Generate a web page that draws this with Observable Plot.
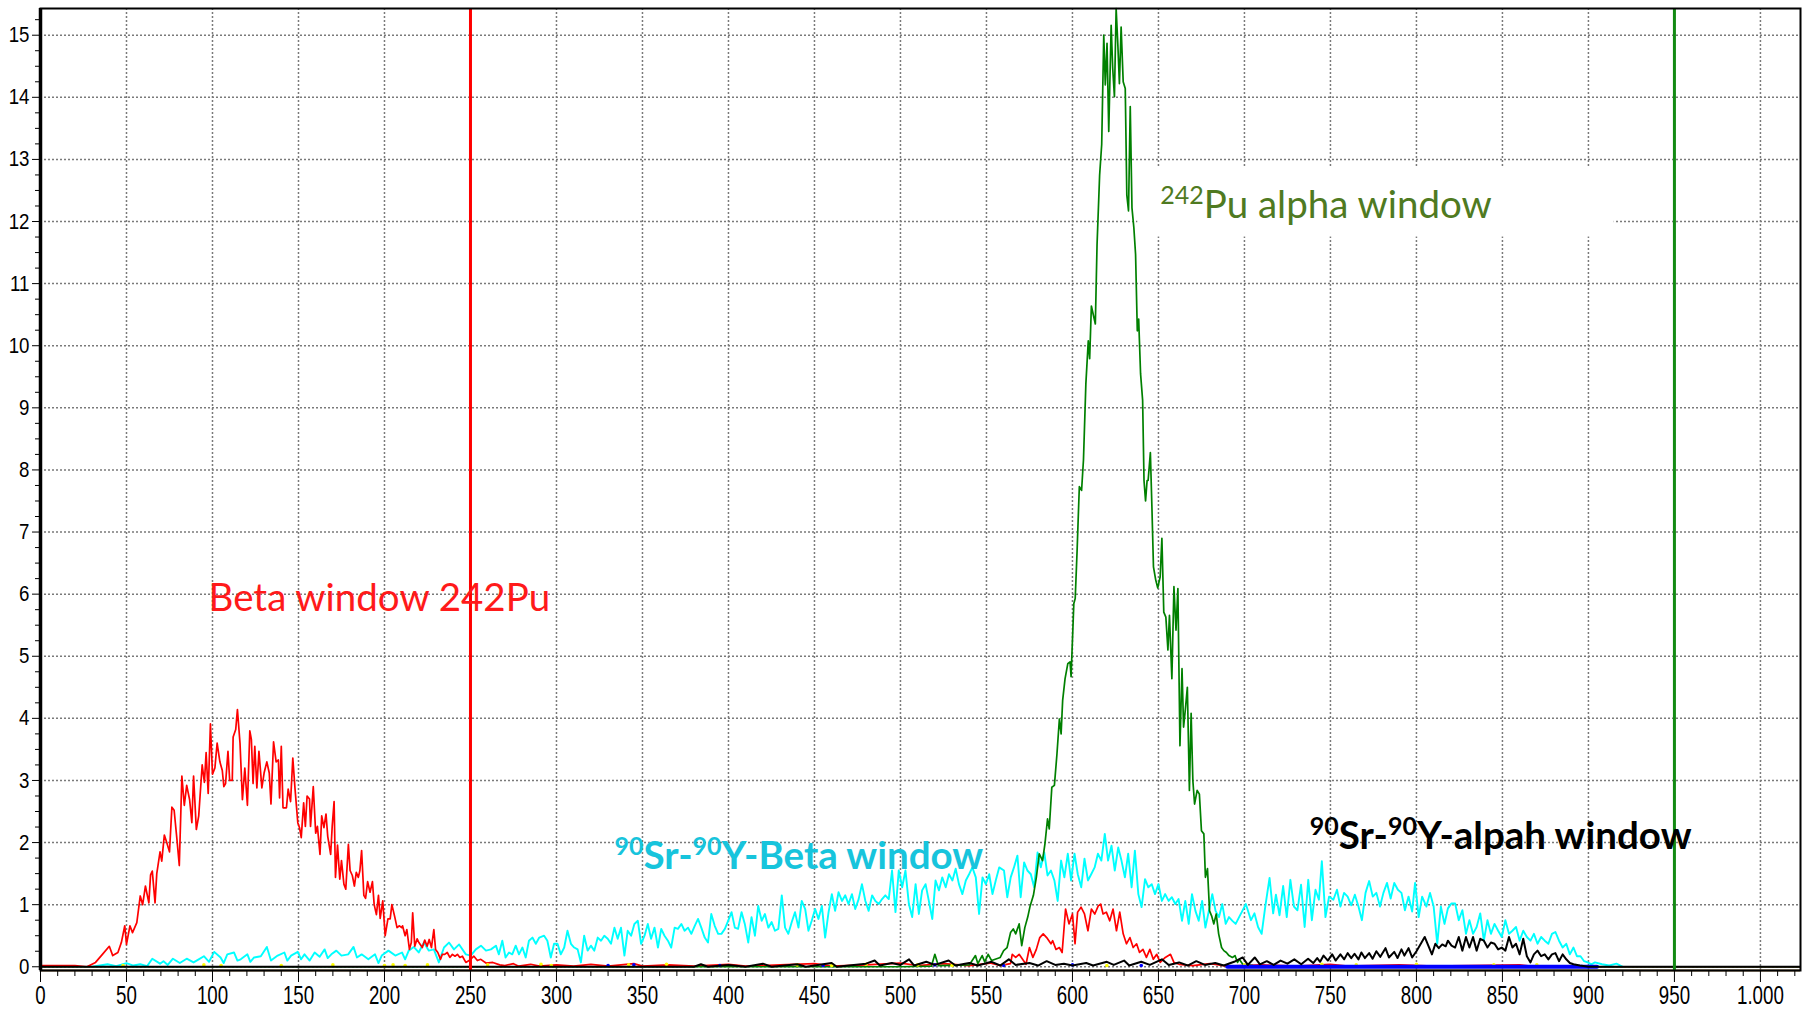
<!DOCTYPE html>
<html><head><meta charset="utf-8">
<script src="https://cdn.jsdelivr.net/npm/d3@7"></script>
<script src="https://cdn.jsdelivr.net/npm/@observablehq/plot@0.6"></script>
<style>
html,body{margin:0;padding:0;background:#fff;}
#chart svg{display:block;}
</style></head><body><div id="chart"></div>
<script>
// ---------- axis ticks ----------
const xTicks = [0,50,100,150,200,250,300,350,400,450,500,550,600,650,700,750,800,850,900,950,1000];
const xTickLabels = ["0","50","100","150","200","250","300","350","400","450","500","550","600","650","700","750","800","850","900","950","1.000"];
const yTicks = [0,1,2,3,4,5,6,7,8,9,10,11,12,13,14,15];

// ---------- window limits (channel) ----------
const betaWindowLimit = [250];
const alphaWindowLimit = [950];

// ---------- spectra: [channel, counts] ----------
const redSpectrum = [
[0,0.02],[20,0.02],[27,0],[32,0.07],[36,0.2],[40,0.33],[42,0.18],[45,0.23],[47,0.39],[49,0.66],[50,0.36],[52,0.66],[53.5,0.55],[56,0.71],[58,1.14],[59.4,1.0],[61,1.3],[63,1.03],[64,1.48],[65,1.54],[66.6,1.03],[67.6,1.5],[69.5,1.85],[70.5,1.7],[72,2.12],[73.4,2.0],[75,1.85],[76.4,2.57],[77.7,2.52],[79.3,2.06],[80.7,1.63],[82.2,3.07],[83.6,2.6],[85,2.92],[86.7,2.69],[88,2.32],[89,3.07],[90.6,2.21],[92,2.43],[94,3.25],[95.3,2.97],[96.3,3.45],[97.5,2.79],[98.8,3.91],[100,3.1],[101.4,3.2],[102.7,3.6],[104.3,3.3],[105.7,3.16],[106.6,2.9],[107.6,2.95],[109,3.47],[110,3.0],[111.5,3.0],[112,3.7],[113.5,3.82],[114.5,4.14],[116,3.6],[117.4,2.69],[118.8,3.2],[120.3,2.6],[121.7,3.8],[122.6,3.66],[123.6,2.95],[124.6,3.55],[125.8,2.88],[127,3.47],[128.7,2.88],[130,3.12],[131.6,3.3],[133,3.12],[134,2.62],[135.5,3.62],[137,3.3],[138.3,3.33],[139,2.72],[140,3.55],[141,2.56],[143,2.56],[144,2.86],[145.4,2.66],[146.7,3.36],[148,2.86],[149.6,2.32],[150.6,2.24],[151.6,2.08],[153,2.64],[154,2.26],[155,2.75],[156.4,2.7],[157,2.26],[158.6,2.9],[160,2.15],[161,2.26],[162.5,1.81],[163.5,2.43],[164.8,2.24],[166,2.46],[167,2.1],[168.7,1.81],[169.6,2.26],[170.7,2.66],[171.5,1.44],[172.7,1.96],[174,1.41],[175,1.71],[176.4,1.33],[177.5,1.25],[179,1.97],[180,1.55],[181.3,1.47],[182.5,1.3],[183.6,1.52],[184.8,1.44],[185.7,1.55],[186.7,1.87],[188,1.15],[189,1.1],[190.2,1.37],[191.6,1.2],[193,1.37],[194,1.0],[195.3,0.84],[196.5,1.15],[197.5,0.78],[199,1.06],[200.4,0.5],[202,0.77],[203.3,0.77],[204.3,1.0],[206,0.8],[207.3,0.63],[208.7,0.66],[210,0.63],[210.5,0.66],[212,0.5],[213,0.6],[214.5,0.28],[215.6,0.39],[216.4,0.87],[217.6,0.33],[219,0.45],[220,0.39],[222,0.31],[223.4,0.43],[224.8,0.33],[226,0.44],[227.3,0.31],[228.7,0.6],[229.7,0.28],[231,0.23],[232.6,0.12],[233.6,0.2],[235,0.2],[236.5,0.23],[238,0.15],[239.5,0.2],[241,0.17],[242.4,0.2],[243.8,0.15],[245.3,0.17],[247.3,0.07],[249.2,0.1],[252,0.17],[254,0.1],[256,0.12],[259,0.06],[263,0.07],[267,0.03],
[270,0.02],[275,0.05],[278,0.01],[285,0.04],[290,0.01],[300,0.03],[310,0.01],[320,0.04],[330,0.01],[345,0.05],[350,0.01],[365,0.03],[380,0.01],[400,0.04],[410,0.01],[430,0.03],[450,0.05],[460,0.01],[480,0.03],[500,0.06],[510,0.02],[525,0.05],[540,0.02],[552,0.06],[558,0.02],
[560,0.03],[564,0.05],[565,0.2],[567,0.15],[569,0.2],[571,0.12],[573,0.04],[575,0.31],[577,0.15],[579,0.28],[581,0.47],[583,0.53],[585,0.47],[587.5,0.37],[588.5,0.42],[590.4,0.28],[592.4,0.31],[594,0.23],[596,0.93],[598,0.69],[600,0.85],[601.5,0.37],[603,0.88],[605,0.96],[607,0.85],[609,0.58],[611,0.93],[613,0.85],[615,0.98],[616.4,1.01],[617.8,0.85],[619.7,0.88],[621.7,0.74],[623.6,0.93],[625.6,0.58],[627.5,0.88],[629.5,0.53],[631.4,0.37],[633.4,0.47],[635.3,0.31],[637.3,0.37],[639,0.23],[641,0.28],[643,0.15],[645,0.28],[647,0.12],[649,0.2],[651,0.07],[654,0.15],[657,0.2],[659,0.07],[662,0.04],
[670,0.02],[680,0.05],[690,0.01],[710,0.03],[730,0.01],[750,0.04],[760,0.01],[790,0.03],[810,0.01],[860,0.03],[870,0],[1023,0]
];

const cyanSpectrum = [
[30,0],[39,0.04],[44,0.01],[50,0.06],[54,0.02],[58,0.04],[62,0.01],[65,0.13],[69.5,0.05],[71.5,0.09],[74,0.03],[77,0.13],[81,0.06],[85,0.13],[89,0.07],[92,0.12],[95,0.17],[98,0.08],[101,0.24],[104.7,0.15],[106.5,0.06],[108.6,0.2],[112.5,0.23],[114.5,0.1],[116.4,0.12],[120.3,0.2],[122,0.08],[124.2,0.15],[128.1,0.17],[131.6,0.32],[134,0.1],[137.9,0.18],[141.8,0.23],[143.5,0.1],[145.7,0.18],[149.6,0.24],[151.5,0.12],[153.5,0.2],[156.5,0.1],[159.4,0.23],[162.3,0.16],[165.2,0.28],[167,0.14],[169.1,0.2],[172,0.26],[175,0.18],[178.9,0.2],[182,0.32],[184,0.15],[186.7,0.2],[190.6,0.12],[194.5,0.2],[196.5,0.06],[198.4,0.18],[202.3,0.26],[206.3,0.18],[210.2,0.23],[212,0.12],[214.1,0.26],[217,0.32],[219.9,0.23],[222.9,0.39],[225.8,0.26],[228.7,0.28],[231.6,0.07],[234.6,0.31],[237.5,0.39],[240.4,0.28],[243.4,0.36],[247.3,0.2],[250.2,0.18],[253.1,0.28],[256.1,0.34],[259,0.26],[261.9,0.28],[264.8,0.34],
[266.5,0.20],[268.5,0.42],[270.4,0.15],[272.4,0.23],[274.3,0.20],[276.3,0.34],[278.2,0.20],[280.2,0.31],[282.1,0.15],[284,0.42],[286,0.47],[288,0.37],[290,0.47],[292.8,0.50],[294.7,0.42],[296.7,0.15],[298.6,0.37],[300.6,0.37],[302.5,0.20],[304.5,0.31],[306.4,0.58],[308.4,0.37],[310.3,0.31],[312.3,0.28],[314.2,0.07],[316.1,0.50],[318.1,0.26],[320,0.34],[322,0.26],[324,0.47],[325.9,0.42],[327.8,0.50],[329.8,0.45],[331.7,0.37],[333.7,0.63],[335.6,0.45],[337.5,0.63],[339.5,0.18],[341.4,0.58],[343.4,0.50],[345.3,0.69],[347.3,0.74],[349.2,0.37],[351.2,0.50],[353.1,0.69],[355,0.45],[357,0.63],[359,0.31],[360.9,0.61],[362.8,0.50],[364.8,0.42],[366.7,0.31],[368.7,0.63],[370.6,0.61],[372.6,0.69],[374.5,0.58],[376.5,0.63],[378.4,0.53],[380.4,0.66],[382.3,0.77],[384.2,0.63],[386.2,0.47],[388.1,0.39],[390,0.85],[392,0.66],[394,0.53],[395.9,0.53],[397.9,0.61],[399.8,0.74],[401.8,0.88],[403.7,0.63],[405.6,0.61],[407.6,0.88],[409.5,0.69],[411.5,0.39],[413.4,0.80],[415.4,0.50],[417.3,0.98],[419.3,0.74],[421.2,0.85],[423.2,0.63],[425.1,0.72],[427,0.58],[429,0.61],[431,1.15],[432.9,0.63],[434.8,0.53],[436.8,0.72],[438.7,0.88],[440.7,0.63],[442.6,1.06],[444.6,0.93],[446.5,0.58],[448.4,0.74],[450.4,0.93],[452.3,0.77],[454.3,0.98],[456.2,0.47],[458.2,0.88],[460.1,1.17],[462,0.90],[464,1.20],[466,1.06],[467.9,1.15],[469.8,1.01],[471.8,1.17],[473.7,0.93],[475.7,1.09],[477.6,1.33],[479.6,1.06],[481.5,0.90],[483.5,1.15],[485.4,1.06],[487.4,1.01],[489.3,1.09],[491.2,1.15],[493.2,1.09],[495.1,1.55],[497.1,0.88],[499,1.55],[501,1.28],[502.9,1.55],[504.9,1.01],[506.8,0.80],[508.8,1.33],[510.7,0.85],[512.6,1.23],[514.6,1.33],[516.5,1.06],[518.5,0.77],[520.4,1.39],[522.4,1.23],[524.3,1.44],[526.3,1.28],[528.2,1.49],[530.2,1.39],[532.1,1.58],[534,1.33],[536,1.17],[538,1.39],[539.9,1.49],[541.8,1.60],[543.8,1.44],[545.7,0.85],[547.7,1.44],[549.6,1.33],[551.6,1.49],[553.5,1.17],[555.4,1.39],[557.4,1.60],
[560.2,1.55],[562.1,1.12],[564.1,1.44],[566,1.60],[568,1.79],[569.9,1.12],[571.9,1.68],[573.8,1.55],[575.8,1.49],[577.7,1.28],[579.7,1.84],[581.6,1.60],[583.6,1.84],[585.5,1.47],[587.5,1.55],[589.5,1.39],[591.4,1.06],[593.4,1.71],[595.3,1.44],[597.3,1.82],[599.2,1.39],[601.2,1.82],[603.1,1.49],[605.1,1.28],[607,1.74],[609,1.39],[610.9,1.49],[612.9,1.60],[614.8,1.82],[616.8,1.71],[618.8,2.14],[620.7,1.71],[622.7,1.95],[624.6,1.55],[626.6,1.92],[628.5,1.71],[630.5,1.44],[632.4,1.82],[634.4,1.28],[636.3,1.87],[638.3,1.17],[640.2,0.96],[642.2,1.41],[644.1,1.28],[646.1,1.33],[648,1.17],[650,1.33],[652,1.06],[653.9,1.17],[655.9,1.06],[657.8,1.12],[659.8,1.01],[661.7,1.09],[663.7,0.74],[665.6,1.06],[667.6,0.69],[669.5,1.17],[671.5,0.90],[673.4,0.74],[675.4,1.06],[677.3,0.63],[679.3,0.90],[681.3,1.17],[683.2,0.90],[685.2,0.80],[687.1,1.01],[689.1,0.69],[691,0.80],[693,0.74],[694.9,0.69],[696.9,0.80],[698.8,0.90],[700.8,1.01],
[703.8,0.75],[705.8,0.86],[707.9,0.64],[710,0.53],[712.1,0.97],[714.6,1.43],[716.7,0.86],[718.3,1.16],[720.4,0.83],[722.5,1.30],[724.6,0.80],[726.7,1.40],[728.8,0.97],[730.8,0.91],[732.9,1.32],[735,0.64],[737.1,1.40],[739.2,0.75],[741.3,1.24],[743.3,1.08],[745,1.70],[747.1,0.80],[749.2,1.13],[751.7,1.08],[753.8,1.24],[755.8,0.97],[757.9,1.19],[760,1.13],[762.1,0.99],[764.2,1.16],[766.3,0.97],[768.3,0.75],[770.4,1.19],[772.5,1.38],[774.6,1.13],[776.7,1.19],[778.8,0.97],[780.8,1.19],[782.9,1.35],[785,1.10],[787.1,1.35],[789.2,1.24],[791.3,1.19],[793.3,0.91],[795.4,1.13],[797.5,0.89],[799.2,1.35],[801.3,0.80],[803.3,1.13],[805.8,0.97],[807.9,1.19],[810,0.97],[812.1,0.37],[814.2,0.97],[816.3,0.69],[818.3,0.94],[820.4,1.02],[822.5,1.02],[824.6,0.75],[826.7,0.91],[828.8,0.53],[830.8,0.75],[832.9,0.53],[835,0.64],[837.1,0.86],[839.2,0.42],[841.3,0.75],[843.3,0.53],[845.4,0.69],[847.5,0.58],[849.6,0.48],[851.7,0.75],[853.8,0.53],[855.8,0.58],[857.9,0.64],[860,0.42],[862.1,0.58],[864.2,0.48],[866.3,0.42],[868.3,0.53],[870.4,0.37],[872.5,0.48],[874.6,0.42],[876.7,0.37],[878.8,0.53],[880.8,0.56],[882.9,0.42],[885,0.31],[887.1,0.37],[889.2,0.20],[891.3,0.31],[893.3,0.17],[895.4,0.17],[897.5,0.09],[899.6,0.07],[901.7,0.04],[903.8,0.07],[907.9,0.04],[912.1,0.02],[916.3,0.05],[920,0.0]
];

const greenSpectrum = [
[0,0],[500,0],[518,0.01],[520,0.2],[522,0.02],[540,0.03],[543.6,0.18],[545,0.05],[547.5,0.18],[549,0.08],[551,0.2],[553,0.1],[558,0.15],[560,0.26],[562,0.31],[564,0.55],[565.6,0.61],[567,0.53],[569,0.69],[570.5,0.34],[572.3,0.63],[574,0.8],[575.4,0.98],[577.3,1.15],[579,1.44],[580.7,1.82],[582.6,1.71],[584,1.98],[585.5,2.38],[586.5,2.22],[588,2.89],[589.5,2.92],[591,3.43],[592.4,3.99],[593.4,3.75],[594.3,4.29],[595.7,4.64],[597.3,4.88],[598.6,4.91],[599.2,4.67],[600.8,5.85],[601.6,5.93],[602.7,6.7],[603.7,7.5],[604,7.73],[605.3,7.67],[606.4,8.16],[607.8,9.39],[609.2,10.08],[610,9.79],[611,10.64],[613.3,10.35],[614.3,11.63],[615.8,12.75],[617,13.24],[618.2,15.0],[619.1,14.2],[620.1,14.87],[621.1,13.45],[622.5,15.16],[623.4,14.47],[624.4,14.01],[625.4,15.43],[626.4,14.84],[627.3,14.22],[628.3,15.13],[629.5,14.25],[630.7,14.14],[631.6,12.43],[632.6,12.17],[633.6,13.85],[634.6,12.22],[635.7,11.9],[636.7,11.47],[637.7,10.24],[638.5,10.43],[639.6,9.55],[640.8,9.12],[641.6,7.83],[642.5,7.5],[643.4,7.83],[644,7.83],[645.3,8.28],[646.2,7.4],[647.1,6.44],[648.4,6.23],[649.6,6.1],[651,6.28],[652,6.9],[653.1,5.71],[654.3,5.63],[655.5,5.1],[656.4,5.66],[657.8,4.64],[659,6.12],[660.2,5.42],[661.3,6.09],[662.5,3.56],[663.7,4.8],[664.6,3.86],[665.6,4.13],[666.8,4.5],[668,2.84],[669,4.08],[670,3.0],[671,2.62],[672.5,2.84],[673.8,2.78],[675,2.19],[676.4,2.14],[677.3,1.44],[678.5,1.58],[679.7,0.9],[680.9,0.82],[682.2,0.69],[683.6,0.85],[685,0.53],[686.7,0.31],[688,0.26],[689.5,0.23],[691,0.18],[693,0.15],[694.5,0.18],[696,0.07],[697,0.12],[699,0.04],[705,0.02],[720,0],[1023,0]
];

const blackSpectrum = [
[0,0],[380,0],[384,0.04],[388,0],[400,0.03],[410,0],[420,0.05],[425,0],[440,0.04],[445,0],[460,0.06],[463,0],[480,0.05],[485,0.1],[488,0.02],[495,0.06],[500,0.03],[505,0.12],[508,0.02],[515,0.08],[520,0.03],[528,0.1],[532,0.02],[540,0.06],[545,0.02],[553,0.08],[558,0.02],[563,0.12],[567,0.03],[575,0.06],[580,0.02],[585,0.09],[590,0.03],[595,0.05],[600,0.02],[608,0.06],[612,0.02],[620,0.08],[624,0.03],[630,0.1],[633,0.02],[640,0.08],[645,0.03],[652,0.12],[656,0.03],[662,0.07],[667,0.02],[672,0.09],[677,0.03],[683,0.06],[688,0.02],[694,0.08],[699,0.15],[702,0.03],[706,0.15],[709,0.04],[713,0.09],[717,0.03],[721,0.1],[725,0.05],[729,0.12],[733,0.04],[737,0.13],[740,0.06],
[742.3,0.14],[744,0.08],[746,0.18],[748.5,0.1],[751,0.2],[753,0.1],[755.8,0.2],[758,0.12],[760,0.22],[762.1,0.14],[764,0.21],[766.3,0.12],[768,0.23],[770,0.14],[772.5,0.22],[774.5,0.13],[776.7,0.25],[779,0.16],[782,0.3],[784,0.15],[787.1,0.24],[789,0.14],[791.3,0.28],[793,0.18],[795.4,0.3],[797.5,0.15],[800,0.25],[801.7,0.33],[804.8,0.48],[806.9,0.34],[809,0.2],[811,0.37],[813,0.3],[815,0.36],[817,0.33],[818.3,0.42],[820.4,0.34],[822.5,0.31],[824.6,0.48],[826.7,0.26],[828.8,0.48],[830.8,0.31],[832.9,0.48],[835,0.26],[837.1,0.45],[839.2,0.42],[841.3,0.31],[843.3,0.39],[845.4,0.37],[847.5,0.28],[849.6,0.31],[851.7,0.26],[853.8,0.48],[855.8,0.31],[857.9,0.37],[860,0.2],[862.1,0.45],[864.2,0.17],[866.3,0.07],[868.3,0.2],[870.4,0.26],[872.5,0.17],[874.6,0.2],[876.7,0.12],[878.8,0.2],[880.8,0.22],[882.9,0.09],[885,0.2],[887.1,0.12],[889.2,0.06],[891.3,0.04],[895,0.02],[900,0],[1023,0]
];

const blueSpectrum = [[690,0],[905,0]];
const blueSpecks = [[330,0.02],[345,0.03],[395,0.02],[455,0.02],[520,0.03],[560,0.02],[600,0.03],[640,0.02]];
const yellowSpecks = [[48,0.02],[95,0.03],[105,0.02],[140,0.02],[170,0.03],[200,0.02],[205,0.03],[212,0.02],[225,0.03],[260,0.03],[291,0.04],[297,0.02],[342,0.03],[364,0.04],[440,0.03],[460,0.02],[480,0.04],[510,0.03],[530,0.02],[560,0.03],[620,0.02],[700,0.03],[745,0.04],[765,0.03],[800,0.04],[845,0.03],[870,0.03]];

// ---------- annotations ----------
const annotations = [
  {x: 97.7, y: 5.93, color: "#ff1a1a", weight: "normal", parts: [["Beta window 242Pu", false]]},
  {x: 651, y: 12.25, color: "#4f7a21", weight: "normal", parts: [["242", true], ["Pu alpha window", false]]},
  {x: 333.7, y: 1.77, color: "#17c4dc", weight: "bold", parts: [["90", true], ["Sr-", false], ["90", true], ["Y-Beta window", false]]},
  {x: 738, y: 2.09, color: "#000000", weight: "bold", parts: [["90", true], ["Sr-", false], ["90", true], ["Y-alpah window", false]]}
];
const labelBackground = [{x1: 638, x2: 915, y1: 11.75, y2: 12.87}];

const gridStyle = {stroke: "#7a7a7a", strokeOpacity: 1, strokeWidth: 1.5, strokeDasharray: "2,2"};
const tickFont = "'Liberation Sans', Arial, sans-serif";
const labelFont = "Lato, 'Open Sans', sans-serif";
const labelSize = 38.5;

const marks = [
  Plot.gridX(xTicks, gridStyle),
  Plot.gridY(yTicks, gridStyle),
  Plot.rect(labelBackground, {x1: "x1", x2: "x2", y1: "y1", y2: "y2", fill: "white"}),
  Plot.line(cyanSpectrum, {stroke: "#00ffff", strokeWidth: 1.9}),
  Plot.line(redSpectrum, {stroke: "#ff0000", strokeWidth: 1.7}),
  Plot.line(greenSpectrum, {stroke: "#008000", strokeWidth: 1.7}),
  Plot.dot(yellowSpecks, {r: 1.8, fill: "#ffff00", stroke: null}),
  Plot.dot(blueSpecks, {r: 1.8, fill: "#0000ff", stroke: null}),
  Plot.line(blueSpectrum, {stroke: "#0000ff", strokeWidth: 4}),
  Plot.line(blackSpectrum, {stroke: "#000000", strokeWidth: 2}),
  Plot.ruleY([-0.06], {stroke: "#8a6a3a", strokeWidth: 2}),
  Plot.ruleX(betaWindowLimit, {stroke: "#ff0000", strokeWidth: 3}),
  Plot.ruleX(alphaWindowLimit, {stroke: "#138a13", strokeWidth: 3}),
  Plot.frame({stroke: "#000", strokeWidth: 2}),
  Plot.ruleX([0], {stroke: "#000", strokeWidth: 3.5}),
  Plot.axisY(yTicks, {anchor: "left", tickSize: 8, tickPadding: 3, fontSize: 22, fontFamily: tickFont, tickFormat: d => String(d), stroke: "#000"}),
  Plot.axisY([0.25,0.5,0.75,1.25,1.5,1.75,2.25,2.5,2.75,3.25,3.5,3.75,4.25,4.5,4.75,5.25,5.5,5.75,6.25,6.5,6.75,7.25,7.5,7.75,8.25,8.5,8.75,9.25,9.5,9.75,10.25,10.5,10.75,11.25,11.5,11.75,12.25,12.5,12.75,13.25,13.5,13.75,14.25,14.5,14.75,15.25], {anchor: "left", tickSize: 5, tickFormat: () => "", stroke: "#000"}),
  Plot.axisX(xTicks, {anchor: "bottom", tickSize: 12, tickPadding: 3, fontSize: 26, fontFamily: tickFont, tickFormat: d => xTickLabels[xTicks.indexOf(d)], stroke: "#000"}),
  Plot.axisX([10,20,30,40,60,70,80,90,110,120,130,140,160,170,180,190,210,220,230,240,260,270,280,290,310,320,330,340,360,370,380,390,410,420,430,440,460,470,480,490,510,520,530,540,560,570,580,590,610,620,630,640,660,670,680,690,710,720,730,740,760,770,780,790,810,820,830,840,860,870,880,890,910,920,930,940,960,970,980,990,1010,1020], {anchor: "bottom", tickSize: 6, tickFormat: () => "", stroke: "#000"}),
  ...annotations.map(a => Plot.text([a], {
    x: "x", y: "y", text: d => d.parts.map(p => p[0]).join(""),
    textAnchor: "start", lineAnchor: "middle", fill: a.color, fontSize: labelSize,
    fontFamily: labelFont, fontWeight: a.weight
  }))
];

const plot = Plot.plot({
  width: 1810, height: 1014,
  marginLeft: 40, marginRight: 10, marginTop: 8, marginBottom: 44,
  x: {domain: [0, 1023.3]},
  y: {domain: [-0.06, 15.43]},
  style: {background: "white", fontFamily: tickFont, color: "#000"},
  marks
});

document.getElementById("chart").appendChild(plot);

// superscripts in annotation labels, narrow tick labels
const plainTexts = annotations.map(a => a.parts.map(p => p[0]).join(""));
const xLabelSet = new Set(xTickLabels);
const yLabelSet = new Set(yTicks.map(String));
plot.querySelectorAll("text").forEach(el => {
  const plain = el.textContent;
  const k = plainTexts.indexOf(plain);
  if (k >= 0) {
    const a = annotations[k];
    while (el.firstChild) el.removeChild(el.firstChild);
    let raised = false;
    const supSize = Math.round(labelSize * 0.64);
    const shift = Math.round(labelSize * 0.36);
    a.parts.forEach(([t, sup]) => {
      const ts = document.createElementNS("http://www.w3.org/2000/svg", "tspan");
      ts.textContent = t;
      if (sup) {
        ts.setAttribute("font-size", supSize);
        if (!raised) ts.setAttribute("dy", -shift);
        raised = true;
      } else if (raised) {
        ts.setAttribute("dy", shift);
        raised = false;
      }
      el.appendChild(ts);
    });
    return;
  }
  const fs = parseFloat(getComputedStyle(el).fontSize);
  let ratio = null;
  if (fs >= 25 && xLabelSet.has(plain)) ratio = 0.72;
  else if (fs < 25 && yLabelSet.has(plain)) ratio = 0.85;
  if (ratio && plain.length) {
    const len = el.getComputedTextLength();
    el.setAttribute("textLength", (len * ratio).toFixed(1));
    el.setAttribute("lengthAdjust", "spacingAndGlyphs");
  }
});
</script>
</body></html>
